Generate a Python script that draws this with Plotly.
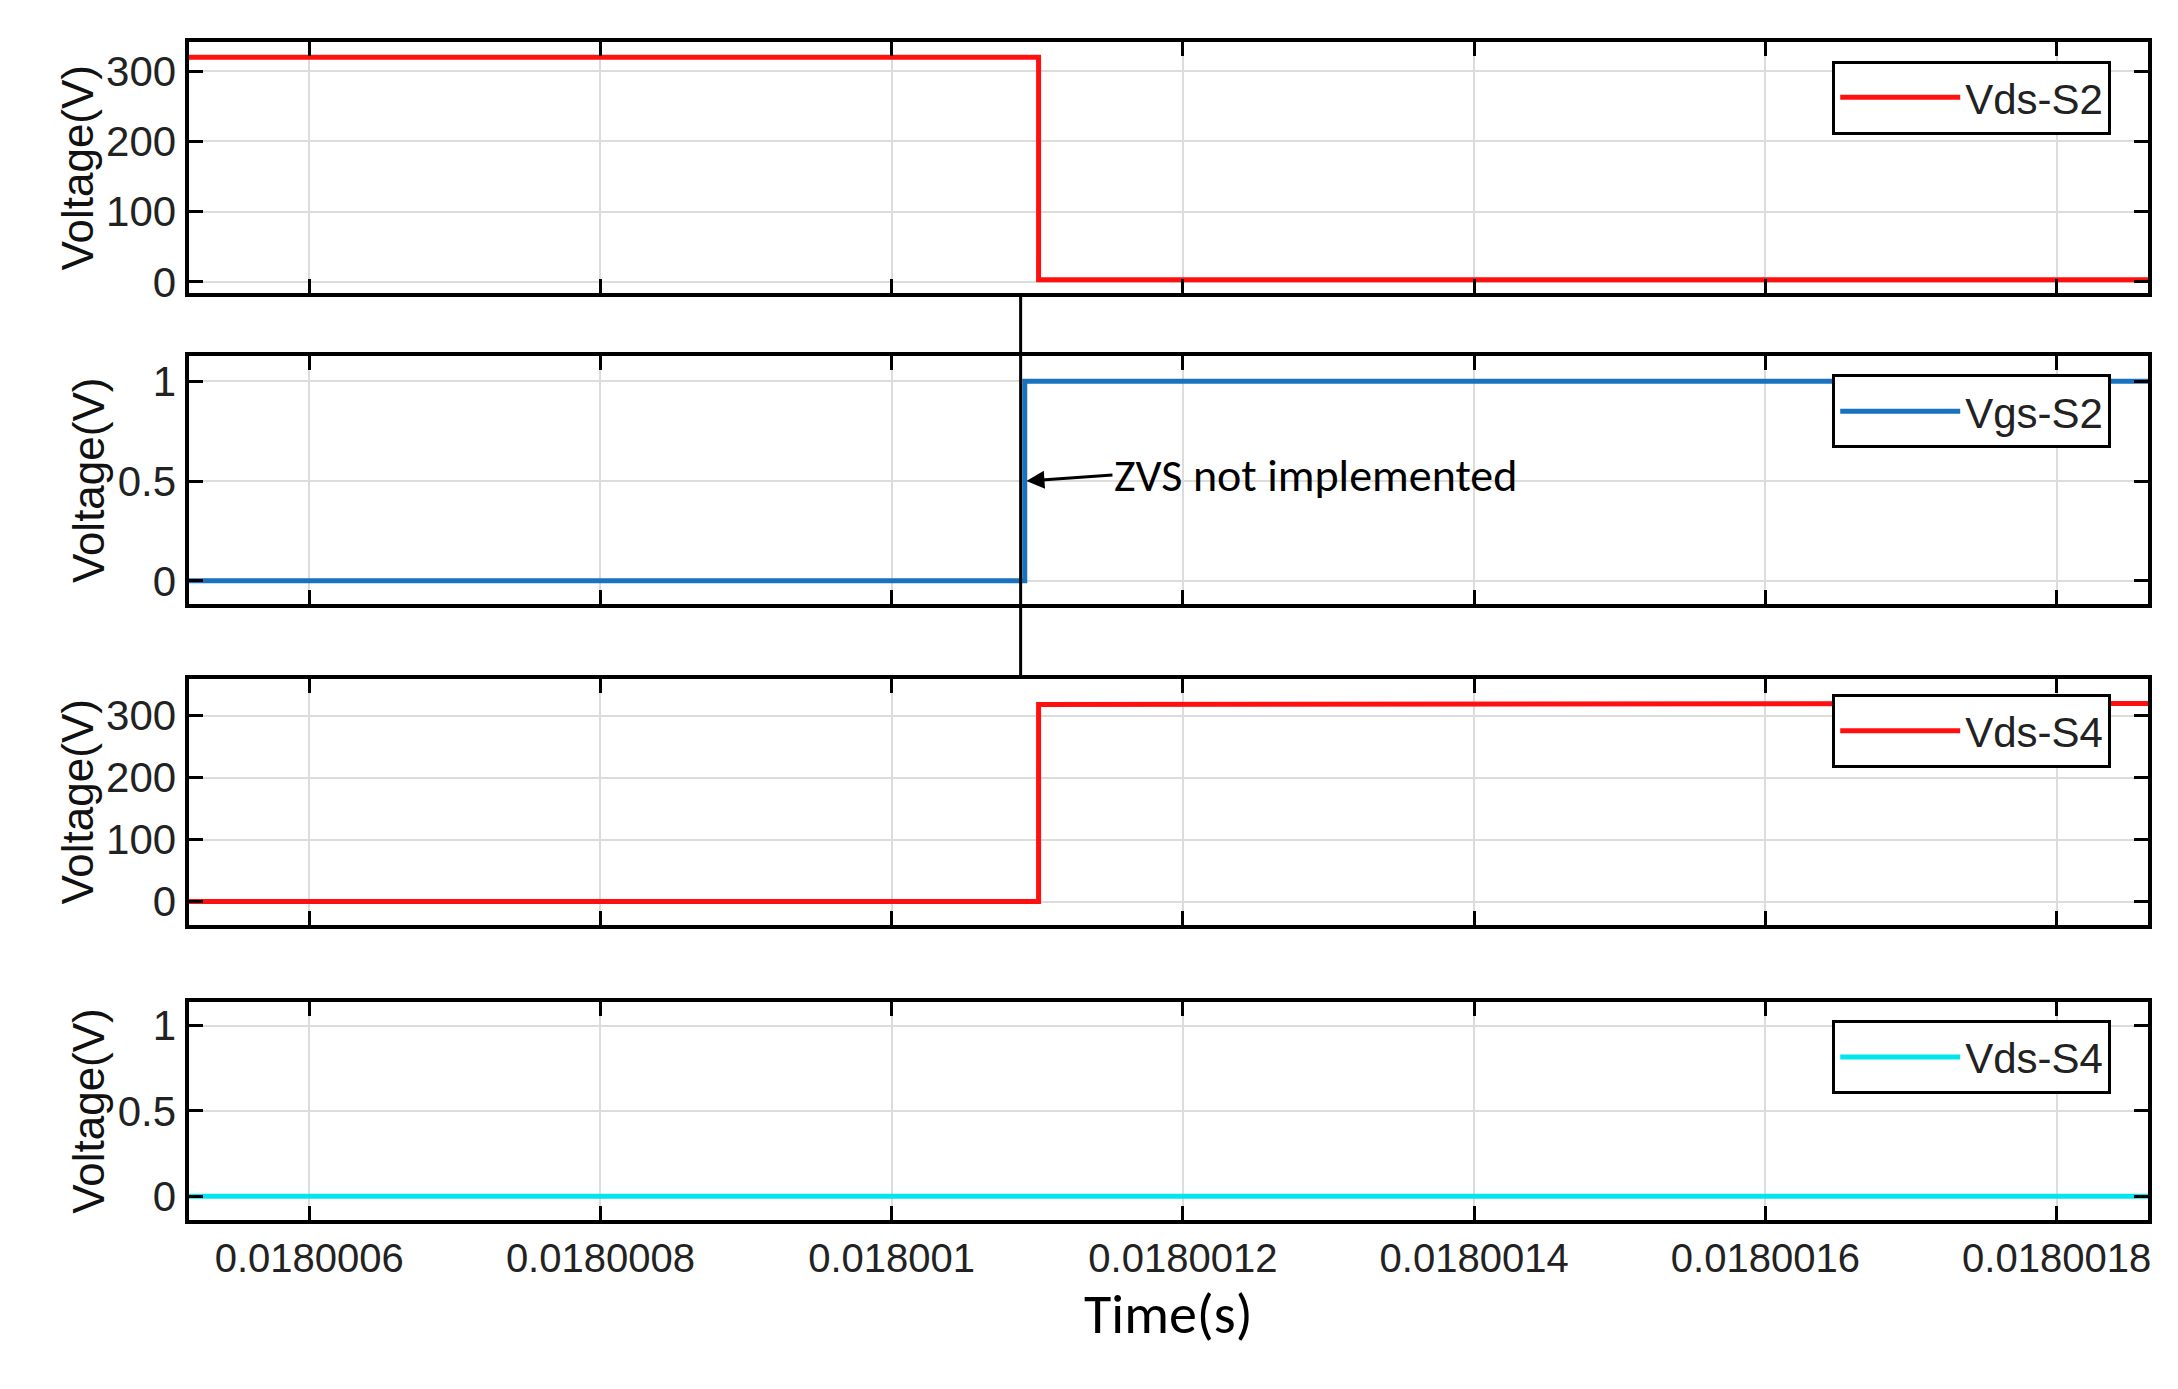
import plotly.graph_objects as go
from plotly.subplots import make_subplots

# switching edge data (time in s, voltage in V)
t_vds2 = [0.0180005, 0.0180011009, 0.0180011009, 0.0180019]
v_vds2 = [320, 320, 3, 3]
t_vgs2 = [0.0180005, 0.0180010914, 0.0180010914, 0.0180019]
v_vgs2 = [0, 0, 1, 1]
t_vds4 = [0.0180005, 0.0180011009, 0.0180011009, 0.0180019]
v_vds4 = [0, 0, 318, 320]
t_vgs4 = [0.0180005, 0.0180019]
v_vgs4 = [0, 0]
names = ["Vds-S2", "Vgs-S2", "Vds-S4", "Vds-S4"]
colors = ["#ff1010", "#1a72bd", "#ff1010", "#00e5ee"]

tickvals = [0.0180006, 0.0180008, 0.0180010, 0.0180012, 0.0180014, 0.0180016, 0.0180018]
ticktext = ["0.0180006", "0.0180008", "0.018001", "0.0180012", "0.0180014", "0.0180016", "0.0180018"]
t_edge = 0.01800108857

fig = make_subplots(rows=4, cols=1, shared_xaxes=True)
series = [(t_vds2, v_vds2), (t_vgs2, v_vgs2), (t_vds4, v_vds4), (t_vgs4, v_vgs4)]
domains = [[0.793, 0.975], [0.567, 0.747], [0.334, 0.513], [0.12, 0.278]]
yranges = [[-16, 341], [-0.117, 1.124], [-38, 360], [-0.137, 1.137]]
ytick = [[0, 100, 200, 300], [0, 0.5, 1], [0, 100, 200, 300], [0, 0.5, 1]]
leg_y = [0.935, 0.707, 0.475, 0.238]

font = "Arial, Liberation Sans"
for i, (t, v) in enumerate(series):
    lg = "legend" if i == 0 else f"legend{i+1}"
    fig.add_trace(go.Scatter(x=t, y=v, mode="lines", name=names[i], legend=lg, showlegend=True,
                             line=dict(color=colors[i], width=5)), row=i+1, col=1)
    fig.layout[lg] = dict(x=0.967, y=leg_y[i], xanchor="right", yanchor="middle",
                          bgcolor="white", bordercolor="black", borderwidth=3, itemwidth=120,
                          font=dict(size=42, family=font, color="#222"))
    fig.update_yaxes(domain=domains[i], range=yranges[i], tickvals=ytick[i],
                     title=dict(text="Voltage(V)", font=dict(size=44, family=font, color="#111"), standoff=0),
                     row=i+1, col=1)
    fig.update_xaxes(range=[0.01800051714, 0.0180018629], tickvals=tickvals, ticktext=ticktext,
                     showticklabels=(i == 3), row=i+1, col=1)

fig.update_xaxes(showline=True, linecolor="black", linewidth=4, mirror="ticks",
                 ticks="inside", ticklen=14, tickwidth=3, tickcolor="black",
                 showgrid=True, gridcolor="#dcdcdc", gridwidth=2, domain=[0.083, 0.984],
                 tickfont=dict(size=40, family=font, color="#222"))
fig.update_yaxes(showline=True, linecolor="black", linewidth=4, mirror="ticks",
                 ticks="inside", ticklen=14, tickwidth=3, tickcolor="black",
                 showgrid=True, gridcolor="#dcdcdc", gridwidth=2, zeroline=False,
                 tickfont=dict(size=42, family=font, color="#222"))
fig.update_xaxes(title=dict(text="Time(s)", font=dict(size=56, family="Calibri, Carlito, Liberation Sans", color="black"), standoff=10),
                 row=4, col=1)

fig.add_shape(type="line", xref="x", yref="paper", x0=t_edge, x1=t_edge,
              y0=0.513, y1=0.793, line=dict(color="black", width=3))
fig.add_annotation(x=t_edge + 0.000000004, y=0.5, xref="x2", yref="y2",
                   text="ZVS not implemented", showarrow=True, arrowhead=2, arrowsize=1.2,
                   arrowwidth=3, arrowcolor="black", ax=86, ay=-6, xanchor="left",
                   font=dict(size=46, family="Calibri, Carlito, Liberation Sans", color="black"))

fig.update_layout(width=2178, height=1389, plot_bgcolor="white", paper_bgcolor="white",
                  showlegend=True, margin=dict(l=0, r=0, t=0, b=0))
fig.write_html("out.html")
